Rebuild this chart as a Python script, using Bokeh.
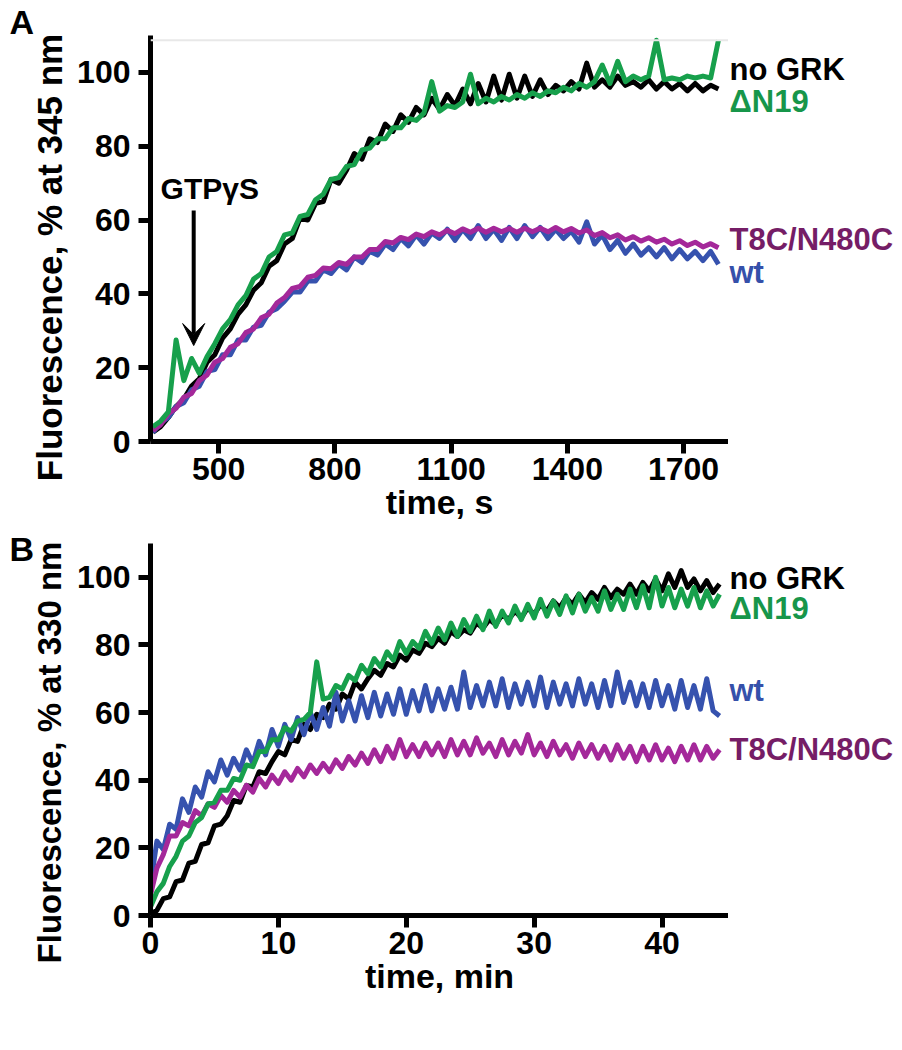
from math import pi
from bokeh.plotting import figure
from bokeh.models import Range1d, Label, Arrow, VeeHead, Span, FixedTicker
from bokeh.layouts import column, row
from bokeh.embed import file_html
from bokeh.resources import INLINE

FONT = "Liberation Sans"

# ---------------- Panel A data (time in s) ----------------
time_s = [330, 350, 370, 390, 410, 430, 450, 470, 490, 510,
          530, 550, 570, 590, 610, 630, 650, 670, 690, 710,
          730, 750, 770, 790, 810, 830, 850, 870, 890, 910,
          930, 950, 970, 990, 1010, 1030, 1050, 1070, 1090, 1110,
          1130, 1150, 1170, 1190, 1210, 1230, 1250, 1270, 1290, 1310,
          1330, 1350, 1370, 1390, 1410, 1430, 1450, 1470, 1490, 1510,
          1530, 1550, 1570, 1590, 1610, 1630, 1650, 1670, 1690, 1710,
          1730, 1750, 1770, 1790]
a_no_grk = [2.5, 4, 6.5, 9.5, 11.5, 15, 17, 21.5, 23.5, 28,
            30.5, 34.5, 37, 41, 43, 47.5, 49, 53.5, 55, 60.5,
            60, 64.5, 65, 71, 70, 73.5, 78, 76.5, 82, 81,
            86, 84, 88.5, 86.5, 90.5, 88.5, 93, 90, 94, 91,
            95.5, 91.5, 97, 92, 99, 92.5, 99.5, 93, 99, 93.5,
            98, 94, 96.5, 95, 97.5, 95.5, 102.5, 96, 98, 96,
            99, 96.5, 97.5, 96, 98, 95.5, 97.5, 95.5, 97, 95,
            97, 95, 96.5, 95.5]
a_dn19 = [4, 5.5, 8, 27.5, 16.5, 22.5, 18.5, 23, 26.5, 30.5,
          33, 37, 39.5, 44, 45.5, 50, 51.5, 56, 56.5, 61,
          61.5, 65.5, 67, 71, 71.5, 74.5, 75, 79, 79.5, 82,
          82, 85, 85, 87.5, 87, 89, 97.5, 89.5, 91, 90.5,
          92, 99.5, 91.5, 93, 92, 93.5, 92.5, 94, 93, 94.5,
          93.5, 95, 94.5, 96, 95, 97, 96, 97.5, 102, 97,
          103, 97.5, 99, 98, 99, 108.7, 98, 98.5, 98, 99,
          98.5, 99, 98.5, 108.7]
a_t8c = [3, 4.5, 7.5, 9, 12, 13, 16.5, 18, 21.5, 22.5,
         25.5, 26.5, 29.5, 30.5, 33.5, 34.5, 37.5, 39, 41.5, 42,
         44.5, 45, 47, 46.8, 48.5, 48, 50, 50, 52, 52,
         54.2, 53.8, 55.3, 54.7, 56.2, 55.5, 56.8, 56, 57.2, 56.3,
         57.6, 56.7, 57.8, 56.7, 57.8, 56.8, 57.7, 56.7, 57.8, 56.8,
         57.8, 56.8, 58, 56.8, 57.7, 56.5, 57.3, 55.8, 56.6, 55.2,
         56, 54.6, 55.5, 54.3, 55.2, 54, 54.8, 53.5, 54.4, 53.1,
         54, 52.7, 53.6, 52.5]
a_wt = [2.5, 5, 6.5, 9.5, 10.5, 14, 15, 19, 19.5, 23.5,
        23.5, 27.5, 27.5, 31, 31.5, 35, 36, 38, 40.5, 40.5,
        43.5, 43.5, 46.5, 45.5, 48, 46.5, 50, 48.5, 51.5, 50.5,
        53.5, 52, 55, 53, 56, 53.5, 56.5, 55, 57.5, 54.5,
        57.5, 55, 58.5, 55, 57.5, 54.5, 58, 55, 58.5, 55.5,
        58, 55, 57.5, 55, 57, 54, 59.5, 53.5, 56, 52,
        54.5, 51, 53.5, 50.5, 52.5, 50, 52.5, 49.5, 52, 49.5,
        51.5, 49, 51.5, 48]

# ---------------- Panel B data (time in min) ----------------
time_min = [0, 0.5, 1, 1.5, 2, 2.5, 3, 3.5, 4, 4.5,
            5, 5.5, 6, 6.5, 7, 7.5, 8, 8.5, 9, 9.5,
            10, 10.5, 11, 11.5, 12, 12.5, 13, 13.5, 14, 14.5,
            15, 15.5, 16, 16.5, 17, 17.5, 18, 18.5, 19, 19.5,
            20, 20.5, 21, 21.5, 22, 22.5, 23, 23.5, 24, 24.5,
            25, 25.5, 26, 26.5, 27, 27.5, 28, 28.5, 29, 29.5,
            30, 30.5, 31, 31.5, 32, 32.5, 33, 33.5, 34, 34.5,
            35, 35.5, 36, 36.5, 37, 37.5, 38, 38.5, 39, 39.5,
            40, 40.5, 41, 41.5, 42, 42.5, 43, 43.5, 44, 44.5]
b_no_grk = [0.5, 1.5, 5, 5.5, 10, 10.5, 15.5, 16, 21, 21.5,
            26.5, 27, 29.5, 34, 33.5, 38.5, 38, 42.5, 42, 45.5,
            48.5, 47.5, 52, 51.5, 56.5, 55, 59.5, 58.5, 62.5, 61,
            65.5, 64, 69, 67, 70, 72.5, 71, 74.5, 73.5, 77,
            75.5, 78.5, 77.5, 80.5, 79.5, 82, 80.5, 84, 82.5, 84.5,
            83.5, 86.5, 85, 87.5, 86, 89, 87.5, 90, 88, 91,
            89, 92, 90, 93, 91, 94, 92, 95, 92.5, 95.5,
            93.5, 97, 94, 96.5, 95, 98, 95, 98.5, 96, 99.5,
            96, 101, 97, 102, 97, 99.5, 96, 99, 95.5, 98]
b_dn19 = [2.5, 7, 9.5, 14.5, 17.5, 22, 23.5, 27.5, 29, 33,
          33.5, 37, 37, 40.5, 40, 44.5, 44, 48.5, 48.5, 52,
          52, 55.5, 54.5, 57.5, 58, 60, 75, 64, 64.5, 68,
          67, 71, 69.5, 74, 71.5, 76, 73.5, 78, 75.5, 81,
          77.5, 81, 79, 84, 80.5, 85, 81.5, 86.5, 82.5, 87.5,
          84, 88.5, 84.5, 90, 85.5, 90, 86.5, 91.5, 87.5, 92,
          88, 93.5, 88.5, 93, 89, 94.5, 89.5, 95, 90, 94,
          90, 96, 90.5, 95, 90.5, 96.5, 91, 97.5, 91, 100,
          91.5, 97, 91, 96.5, 91.5, 97, 91, 96, 91.5, 95]
b_wt = [9, 22, 19.5, 27, 25.5, 34.5, 30.5, 38, 35, 42.5,
        39.5, 46, 41.5, 46.5, 43, 49, 45, 51.5, 47.5, 55,
        50, 56.5, 52, 58.5, 53.5, 60, 55, 61.5, 56, 66,
        57.5, 63.5, 57.5, 65, 58.5, 66, 59, 65.5, 59.5, 67,
        59.5, 66.5, 60.5, 68, 60.5, 67, 61, 67.5, 61, 72,
        61.5, 68, 62, 69, 62, 70, 61.5, 68.5, 62.5, 69,
        62, 70.5, 61.5, 69, 62.5, 68.5, 62, 70, 62.5, 68.5,
        61.5, 69.5, 62, 72, 63, 69, 62, 68.5, 61.5, 69.5,
        62, 68, 61, 69.5, 61.5, 68, 61, 70, 60.5, 59]
b_t8c = [6, 14, 18, 23.5, 23.5, 27.5, 26.5, 31, 29.5, 33,
         32, 35.5, 33.5, 37, 35, 38.5, 36.5, 40.5, 38, 41.5,
         39, 42.5, 40, 43.5, 41, 44.5, 42, 45, 42.5, 46,
         43.5, 47, 44.5, 48, 45, 49, 45.5, 50, 46.5, 52,
         47, 50.5, 47, 51, 47.5, 51, 47, 52, 47.5, 51.5,
         47.5, 52.5, 48, 51, 47, 52, 47.5, 51.5, 48, 53.5,
         47.5, 51, 47, 51.5, 47.5, 50.5, 46.5, 51, 47, 50.5,
         46.5, 50, 46, 50.5, 46.5, 50, 45.5, 50, 46, 50.5,
         46, 49.5, 45.5, 50, 46, 50.5, 46, 50, 46.5, 49]

series_names = ["no GRK", "\u0394N19", "T8C/N480C", "wt"]
line_colors = {"no GRK": "#000000", "\u0394N19": "#17a04c",
               "T8C/N480C": "#a4289a", "wt": "#3652ae"}
label_colors = {"no GRK": "#000000", "\u0394N19": "#17964a",
                "T8C/N480C": "#751d66", "wt": "#3550aa"}

# y value at which each series name sits, per panel
a_label_y = {"no GRK": 100.8, "\u0394N19": 92.0, "T8C/N480C": 54.7, "wt": 45.8}
b_label_y = {"no GRK": 99.7, "\u0394N19": 90.8, "wt": 66.6, "T8C/N480C": 49.0}

a_xticks = [500, 800, 1100, 1400, 1700]
b_xticks = [0, 10, 20, 30, 40]
y_ticks = [0, 20, 40, 60, 80, 100]
y_max = 110

# ---------------- layout geometry (pixels) ----------------
LEFT_W = 70          # strip holding the panel letters and y titles
RIGHT_W = 165        # strip holding the series names
FRAME_W = 578
A_TOP, A_FRAME_H, A_BOTTOM = 35, 406, 92
B_TOP, B_FRAME_H, B_BOTTOM = 10, 372, 95
A_H = A_TOP + A_FRAME_H + A_BOTTOM
B_H = B_TOP + B_FRAME_H + B_BOTTOM
TOTAL_H = A_H + B_H


def style(p, xticks):
    p.grid.visible = False
    p.outline_line_color = None
    p.background_fill_color = "white"
    p.border_fill_color = "white"
    p.xaxis.ticker = FixedTicker(ticks=xticks)
    p.yaxis.ticker = FixedTicker(ticks=y_ticks)
    for ax in p.axis:
        ax.axis_line_width = 5
        ax.axis_line_color = "black"
        ax.major_tick_line_width = 5
        ax.major_tick_line_color = "black"
        ax.major_tick_out = 12
        ax.major_tick_in = 0
        ax.minor_tick_line_color = None
        ax.major_label_text_font = FONT
        ax.major_label_text_font_style = "bold"
        ax.major_label_text_font_size = "32px"
        ax.major_label_text_color = "black"
        ax.axis_label_text_font = FONT
        ax.axis_label_text_font_style = "bold"
        ax.axis_label_text_font_size = "34px"
        ax.axis_label_text_color = "black"
    p.yaxis.major_label_standoff = 8
    p.xaxis.major_label_standoff = 4
    p.xaxis.axis_label_standoff = 0


def draw_lines(p, x, data):
    for name in ["no GRK", "wt", "T8C/N480C", "\u0394N19"]:
        p.line(x, data[name], line_color=line_colors[name], line_width=5,
               line_join="round")


# ---------------- Panel A ----------------
xa = (324, 1816)
pA = figure(frame_width=FRAME_W, frame_height=A_FRAME_H,
            x_range=Range1d(*xa), y_range=Range1d(0, y_max),
            min_border_left=150 - LEFT_W, min_border_top=A_TOP,
            min_border_right=0, min_border_bottom=A_BOTTOM,
            output_backend="svg", toolbar_location=None)
style(pA, a_xticks)
pA.xaxis.axis_label = "time, s"
pA.add_layout(Span(location=108.7, dimension="width", line_color="#e8e8e8",
                   line_width=2))
draw_lines(pA, time_s, {"no GRK": a_no_grk, "\u0394N19": a_dn19,
                        "T8C/N480C": a_t8c, "wt": a_wt})
pA.add_layout(Arrow(end=VeeHead(size=22, fill_color="black", line_color="black",
                                line_width=1),
                    x_start=435.5, y_start=62.6, x_end=435.5, y_end=26,
                    line_width=4, line_color="black"))
pA.add_layout(Label(x=477, y=68.6, text="GTP\u03b3S", text_font=FONT,
                    text_font_style="bold", text_font_size="30px",
                    text_align="center", text_baseline="middle",
                    text_color="black"))

# ---------------- Panel B ----------------
xb = (0, 45.2)
pB = figure(frame_width=FRAME_W, frame_height=B_FRAME_H,
            x_range=Range1d(*xb), y_range=Range1d(0, y_max),
            min_border_left=150 - LEFT_W, min_border_top=B_TOP,
            min_border_right=0, min_border_bottom=B_BOTTOM,
            output_backend="svg", toolbar_location=None)
style(pB, b_xticks)
pB.xaxis.axis_label = "time, min"
draw_lines(pB, time_min, {"no GRK": b_no_grk, "\u0394N19": b_dn19,
                          "T8C/N480C": b_t8c, "wt": b_wt})


def strip(width):
    s = figure(width=width, height=TOTAL_H, x_range=Range1d(0, width),
               y_range=Range1d(0, TOTAL_H), x_axis_location=None,
               y_axis_location=None, min_border=0, output_backend="svg",
               toolbar_location=None)
    s.grid.visible = False
    s.outline_line_color = None
    s.background_fill_color = "white"
    s.border_fill_color = "white"
    return s


def y_of(top, frame_h, v):
    # canvas y (from the bottom of the strip) of value v in a panel
    return TOTAL_H - (top + (y_max - v) / y_max * frame_h)


# ---------------- left strip: letters + y titles ----------------
pL = strip(LEFT_W)
for letter, ycen in [("A", 21), ("B", 548)]:
    pL.add_layout(Label(x=9, y=TOTAL_H - ycen, text=letter, text_font=FONT,
                        text_font_style="bold", text_font_size="34px",
                        text_align="left", text_baseline="middle",
                        text_color="black"))
for title, ycen, size in [("Fluorescence, % at 345 nm", 257, "35px"),
                          ("Fluorescence, % at 330 nm", 752, "33px")]:
    pL.add_layout(Label(x=49, y=TOTAL_H - ycen, text=title, angle=pi / 2,
                        text_font=FONT, text_font_style="bold",
                        text_font_size=size, text_align="center",
                        text_baseline="middle", text_color="black"))

# ---------------- right strip: series names ----------------
pR = strip(RIGHT_W)
for top, fh, ypos in [(A_TOP, A_FRAME_H, a_label_y),
                      (A_H + B_TOP, B_FRAME_H, b_label_y)]:
    for name in series_names:
        pR.add_layout(Label(x=1, y=y_of(top, fh, ypos[name]), text=name,
                            text_font=FONT, text_font_style="bold",
                            text_font_size="31px", text_color=label_colors[name],
                            text_align="left", text_baseline="middle"))

layout = row(pL, column(pA, pB, spacing=0), pR, spacing=0)
open("out.html", "w").write(file_html(layout, INLINE, title="Fluorescence"))
